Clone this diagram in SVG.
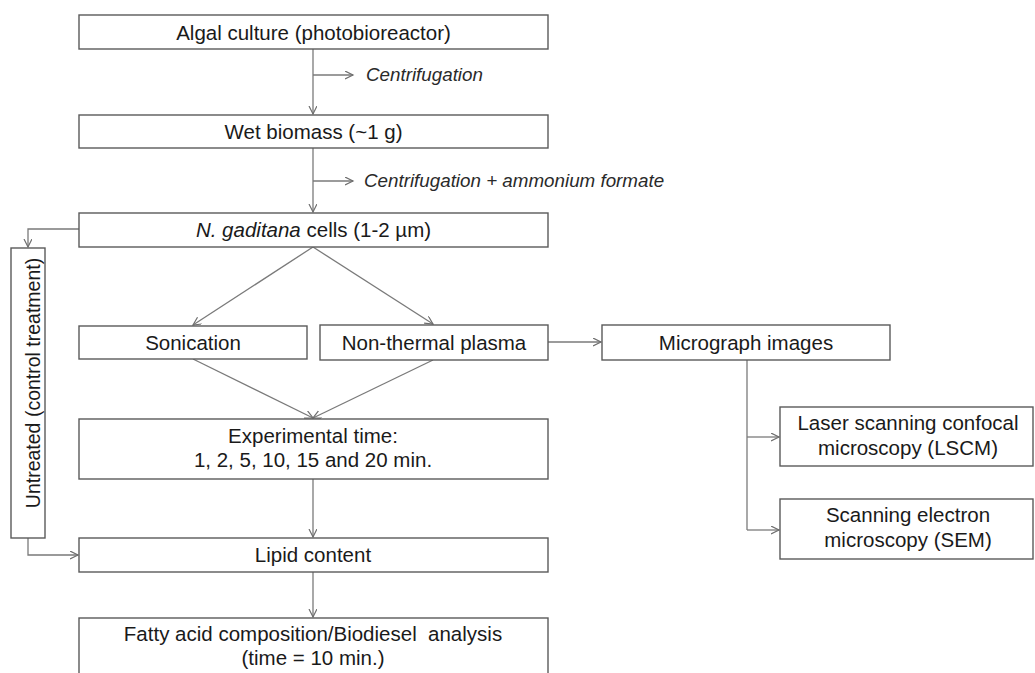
<svg xmlns="http://www.w3.org/2000/svg" width="1035" height="673" viewBox="0 0 1035 673">
<defs>
<marker id="arr" markerUnits="userSpaceOnUse" markerWidth="10" markerHeight="10" refX="8" refY="4" orient="auto">
<path d="M0,0 L8,4 L0,8" fill="none" stroke="#6e6e6e" stroke-width="1.2"/>
</marker>
</defs>
<style>
.box{fill:#ffffff;stroke:#5a5a5a;stroke-width:1.4}
.t{font-family:"Liberation Sans",Arial,sans-serif;font-size:20.5px;fill:#1a1a1a;text-anchor:middle}
.it{font-family:"Liberation Sans",Arial,sans-serif;font-size:18.8px;font-style:italic;fill:#2a2a2a}
.c{fill:none;stroke:#7a7a7a;stroke-width:1.3}
</style>
<rect width="1035" height="673" fill="#ffffff"/>
<g id="connectors">
<path class="c" d="M313,49 V114" marker-end="url(#arr)"/>
<path class="c" d="M313,75 H353" marker-end="url(#arr)"/>
<path class="c" d="M313,148 V212" marker-end="url(#arr)"/>
<path class="c" d="M313,181 H353" marker-end="url(#arr)"/>
<path class="c" d="M79,229 H28 V247" marker-end="url(#arr)"/>
<path class="c" d="M313,247 L193,325" marker-end="url(#arr)"/>
<path class="c" d="M313,247 L433,324" marker-end="url(#arr)"/>
<path class="c" d="M193,359 L313,418" marker-end="url(#arr)"/>
<path class="c" d="M433,360 L313,418" marker-end="url(#arr)"/>
<path class="c" d="M313,479 V537" marker-end="url(#arr)"/>
<path class="c" d="M28,538 V555 H78" marker-end="url(#arr)"/>
<path class="c" d="M313,572 V617" marker-end="url(#arr)"/>
<path class="c" d="M548,342 H601" marker-end="url(#arr)"/>
<path class="c" d="M747,360 V530"/>
<path class="c" d="M747,437 H779" marker-end="url(#arr)"/>
<path class="c" d="M747,530 H779" marker-end="url(#arr)"/>
<text class="it" x="366" y="81">Centrifugation</text>
<text class="it" x="364" y="187">Centrifugation + ammonium formate</text>
</g>
<g id="algal">
<rect class="box" x="79" y="15" width="469" height="34"/>
<text class="t" x="313.5" y="39.5">Algal culture (photobioreactor)</text>
</g>
<g id="wet">
<rect class="box" x="79" y="115" width="469" height="33"/>
<text class="t" x="313.5" y="139">Wet biomass (~1 g)</text>
</g>
<g id="cells">
<rect class="box" x="79" y="213" width="469" height="34"/>
<text class="t" x="313.5" y="237"><tspan font-style="italic">N. gaditana</tspan> cells (1-2 µm)</text>
</g>
<g id="untreated">
<rect class="box" x="11" y="248" width="34" height="290"/>
<text class="t" style="font-size:19.5px" transform="translate(40,383) rotate(-90)">Untreated (control treatment)</text>
</g>
<g id="sonication">
<rect class="box" x="79" y="326" width="228" height="33"/>
<text class="t" x="193" y="350">Sonication</text>
</g>
<g id="plasma">
<rect class="box" x="320" y="325" width="228" height="35"/>
<text class="t" x="434" y="350">Non-thermal plasma</text>
</g>
<g id="micrograph">
<rect class="box" x="602" y="325" width="288" height="35"/>
<text class="t" x="746" y="350">Micrograph images</text>
</g>
<g id="lscm">
<rect class="box" x="780" y="407" width="253" height="59"/>
<text class="t" x="908" y="430">Laser scanning confocal</text>
<text class="t" x="908" y="455">microscopy (LSCM)</text>
</g>
<g id="sem">
<rect class="box" x="780" y="499" width="253" height="60"/>
<text class="t" x="908" y="522">Scanning electron</text>
<text class="t" x="908" y="547">microscopy (SEM)</text>
</g>
<g id="exptime">
<rect class="box" x="79" y="419" width="469" height="60"/>
<text class="t" x="313" y="443">Experimental time:</text>
<text class="t" x="313" y="467">1, 2, 5, 10, 15 and 20 min.</text>
</g>
<g id="lipid">
<rect class="box" x="79" y="538" width="469" height="34"/>
<text class="t" x="313" y="562">Lipid content</text>
</g>
<g id="fatty">
<rect class="box" x="79" y="618" width="469" height="70"/>
<text class="t" x="313" y="641">Fatty acid composition/Biodiesel&#160; analysis</text>
<text class="t" x="313" y="665">(time = 10 min.)</text>
</g>
</svg>
